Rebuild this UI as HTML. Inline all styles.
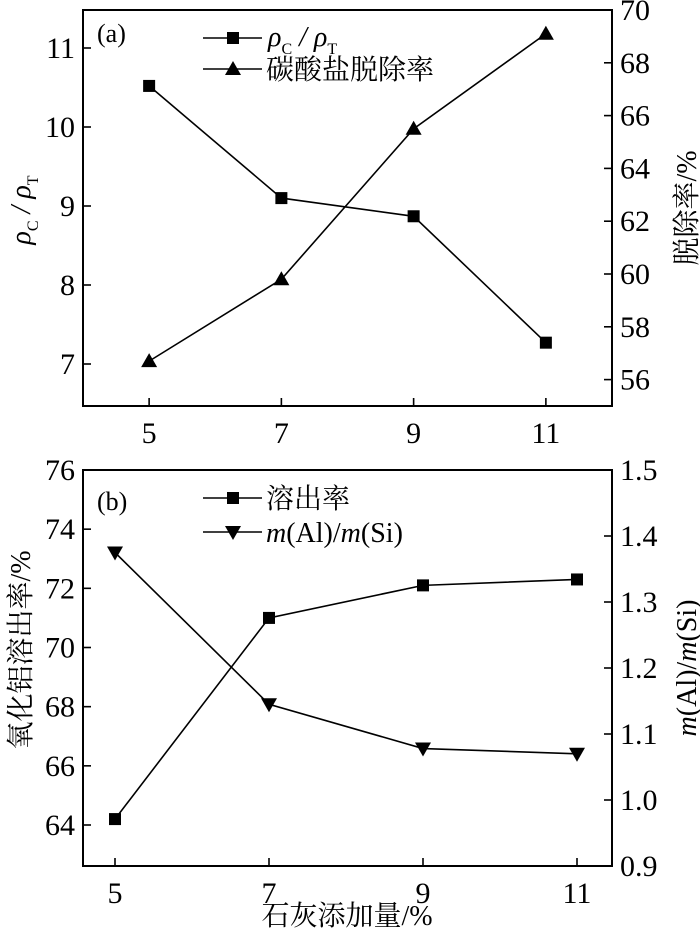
<!DOCTYPE html>
<html><head><meta charset="utf-8"><style>
html,body{margin:0;padding:0;background:#fff;}
svg{display:block;}
text{font-family:"Liberation Serif","Noto Serif CJK SC","Noto Sans CJK SC",serif;fill:#000;}
</style></head><body>
<svg id="chart" width="700" height="935" viewBox="0 0 700 935" xmlns="http://www.w3.org/2000/svg"></svg>
<script>
// Panel (a) data
const xCatsA = [5, 7, 9, 11];
const ratioA = [10.52, 9.1, 8.87, 7.27];
const removalA = [56.7, 59.8, 65.5, 69.1];
const leftTicksA = [7, 8, 9, 10, 11];
const rightTicksA = [56, 58, 60, 62, 64, 66, 68, 70];
// Panel (b) data
const xCatsB = [5, 7, 9, 11];
const dissolB = [64.2, 71.0, 72.1, 72.3];
const alsiB = [1.375, 1.145, 1.078, 1.07];
const leftTicksB = [64, 66, 68, 70, 72, 74, 76];
const rightTicksB = ["0.9", "1.0", "1.1", "1.2", "1.3", "1.4", "1.5"];

const NS = "http://www.w3.org/2000/svg";
const svg = document.getElementById("chart");
function el(tag, attrs, parent) {
  const e = document.createElementNS(NS, tag);
  for (const k in attrs) e.setAttribute(k, attrs[k]);
  (parent || svg).appendChild(e);
  return e;
}
function lin(d0, d1, r0, r1) { return v => r0 + (v - d0) * (r1 - r0) / (d1 - d0); }

function square(g, x, y) {
  const m = el("rect", {x: x - 6, y: y - 6, width: 12, height: 12, fill: "#000"}, g);
  
  
}
function triUp(g, x, y) {
  const m = el("polygon", {points: `${x},${y - 8} ${x - 8},${y + 6} ${x + 8},${y + 6}`, fill: "#000"}, g);
  
  
}
function triDown(g, x, y) {
  const m = el("polygon", {points: `${x - 8},${y - 6} ${x + 8},${y - 6} ${x},${y + 8}`, fill: "#000"}, g);
  
  
}
function series(name, xs, ys, sx, sy, marker) {
  const g = el("g", {});
  
  
  const pts = xs.map((x, i) => `${sx(x)},${sy(ys[i])}`).join(" ");
  el("polyline", {points: pts, fill: "none", stroke: "#000", "stroke-width": 1.6}, g);
  xs.forEach((x, i) => marker(g, sx(x), sy(ys[i])));
}

function panel(o) {
  const g = el("g", {});
  
  
  const frame = el("rect", {x: o.L, y: o.T, width: o.R - o.L, height: o.B - o.T, fill: "none", stroke: "#000", "stroke-width": 2}, g);
  
  
  // x ticks
  o.xCats.forEach(v => {
    const x = o.sx(v);
    el("line", {x1: x, y1: o.B, x2: x, y2: o.B - 8, stroke: "#000", "stroke-width": 1.6}, g);
    const t = el("text", {x: x, y: o.B + 37, "font-size": 30, "text-anchor": "middle"}, g);
    t.textContent = v;
    
    
  });
  o.leftTicks.forEach(v => {
    const y = o.syL(v);
    el("line", {x1: o.L, y1: y, x2: o.L + 8, y2: y, stroke: "#000", "stroke-width": 1.6}, g);
    const t = el("text", {x: o.L - 8, y: y + 10, "font-size": 30, "text-anchor": "end"}, g);
    t.textContent = v;
    
    
  });
  o.rightTicks.forEach(v => {
    const y = o.syR(parseFloat(v));
    el("line", {x1: o.R, y1: y, x2: o.R - 8, y2: y, stroke: "#000", "stroke-width": 1.6}, g);
    const t = el("text", {x: o.R + 8, y: y + 10, "font-size": 30, "text-anchor": "start"}, g);
    t.textContent = v;
    
    
  });
}

// Panel (a)
const LA = 83, RA = 612, TA = 10, BA = 406;
const sxA = lin(4, 12, LA, RA);
const syLA = lin(11, 10, 48, 127);
const syRA = lin(55, 70, BA, TA);
panel({name: "panel-a", L: LA, R: RA, T: TA, B: BA, sx: sxA, syL: syLA, syR: syRA, xCats: xCatsA, leftTicks: leftTicksA, rightTicks: rightTicksA});
series("series-density-ratio", xCatsA, ratioA, sxA, syLA, square);
series("series-carbonate-removal", xCatsA, removalA, sxA, syRA, triUp);

// Panel (b)
const LB = 83, RB = 612, TB = 470, BB = 866;
const sxB = lin(5, 11, 115, 577);
const syLB = lin(64, 76, 825, 470);
const syRB = lin(0.9, 1.5, BB, TB);
panel({name: "panel-b", L: LB, R: RB, T: TB, B: BB, sx: sxB, syL: syLB, syR: syRB, xCats: xCatsB, leftTicks: leftTicksB, rightTicks: rightTicksB});
series("series-dissolution-rate", xCatsB, dissolB, sxB, syLB, square);
series("series-al-si-ratio", xCatsB, alsiB, sxB, syRB, triDown);

// legends
function legendLine(name, y, marker) {
  const g = el("g", {});
  
  
  el("line", {x1: 203, y1: y, x2: 262, y2: y, stroke: "#000", "stroke-width": 1.6}, g);
  marker(g, 233, y);
  return g;
}
legendLine("legend-density-ratio", 38, square);
legendLine("legend-carbonate-removal", 69, triUp);
legendLine("legend-dissolution-rate", 498, square);
legendLine("legend-al-si-ratio", 532, triDown);
</script>
<svg style="position:absolute;left:0;top:0" width="700" height="935">
  <text x="97" y="42" font-size="26">(a)</text>
  <text x="97" y="510" font-size="26">(b)</text>
  <text x="268" y="46" font-size="28" font-family="Liberation Sans" font-style="italic">ρ<tspan font-size="16" font-style="normal" font-family="Liberation Serif" dy="8">C</tspan><tspan dy="-8"> / ρ</tspan><tspan font-size="16" font-style="normal" font-family="Liberation Serif" dy="8">T</tspan></text>
  <text x="266" y="79" font-size="28">碳酸盐脱除率</text>
  <text x="266" y="508" font-size="28">溶出率</text>
  <text x="266" y="542" font-size="28"><tspan font-style="italic">m</tspan>(Al)/<tspan font-style="italic">m</tspan>(Si)</text>
  <text transform="translate(30,210) rotate(-90)" text-anchor="middle" font-size="28" font-family="Liberation Sans" font-style="italic">ρ<tspan font-size="16" font-style="normal" font-family="Liberation Serif" dy="8">C</tspan><tspan dy="-8"> / ρ</tspan><tspan font-size="16" font-style="normal" font-family="Liberation Serif" dy="8">T</tspan></text>
  <text transform="translate(696,208) rotate(-90)" text-anchor="middle" font-size="28">脱除率/%</text>
  <text transform="translate(30,650) rotate(-90)" text-anchor="middle" font-size="28">氧化铝溶出率/%</text>
  <text transform="translate(696,668) rotate(-90)" text-anchor="middle" font-size="28"><tspan font-style="italic">m</tspan>(Al)/<tspan font-style="italic">m</tspan>(Si)</text>
  <text x="347" y="925" text-anchor="middle" font-size="28">石灰添加量/%</text>
</svg>
</body></html>
